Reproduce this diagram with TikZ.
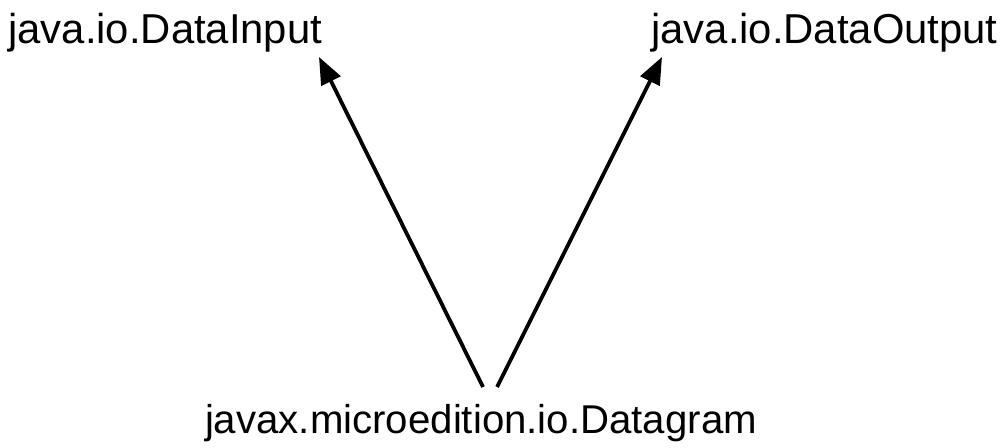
\documentclass[tikz,border=0pt]{standalone}
\usepackage{fontspec}
\setmainfont{Liberation Sans}
\usetikzlibrary{arrows.meta,calc}
\tikzset{
  lbl/.style={inner sep=0pt, font=\fontsize{20.9pt}{25pt}\selectfont},
  lblsmall/.style={inner sep=0pt, font=\fontsize{20.1pt}{24pt}\selectfont},
  inherit/.style={line width=1.9pt, -{Triangle[length=13.5pt,width=10.5pt]}}
}
\begin{document}
\begin{tikzpicture}[x=0.5pt,y=-0.5pt]
\useasboundingbox (0,0) rectangle (1002,448);
% interface and class names
\node[lbl, anchor=base west] (in) at (8,44) {java.io.DataInput};
\node[lbl, anchor=base east] (out) at (998,44) {java.io.DataOutput};
\node[lblsmall, anchor=base] (dg) at (481,434) {javax.microedition.io.Datagram};
% arrow end points just outside the labels
\coordinate (dgL) at (483,387);
\coordinate (dgR) at (497,387);
\coordinate (inTip) at (319,57);
\coordinate (outTip) at (662,57);
% Datagram extends both interfaces
\draw[inherit] (dgL) -- (inTip);
\draw[inherit] (dgR) -- (outTip);
\end{tikzpicture}
\end{document}
